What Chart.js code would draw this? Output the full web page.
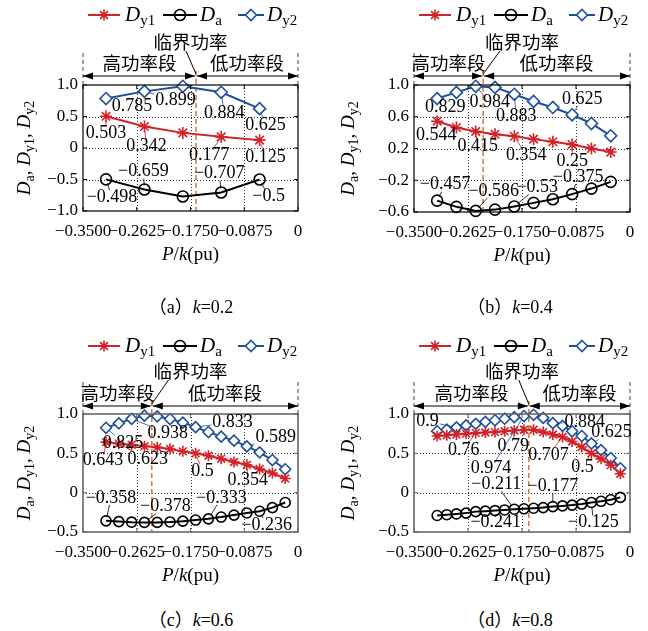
<!DOCTYPE html>
<html>
<head>
<meta charset="utf-8">
<script src="https://cdn.jsdelivr.net/npm/chart.js@4.4.1/dist/chart.umd.min.js"></script>
<style>
  body { margin: 0; background: #fff; width: 648px; height: 631px; position: relative; overflow: hidden; }
  canvas { position: absolute; }
  .cap { position: absolute; transform: translate(-50%, -50%); white-space: nowrap;
         font: 18px 'Liberation Serif', 'Noto Sans CJK SC', serif; color: #000; }
</style>
</head>
<body>
<canvas id="ca" width="324" height="290" style="left:0;top:0"></canvas>
<canvas id="cb" width="324" height="290" style="left:324px;top:0"></canvas>
<canvas id="cc" width="324" height="290" style="left:0;top:310px"></canvas>
<canvas id="cd" width="324" height="290" style="left:324px;top:310px"></canvas>
<div class="cap" style="left:191px;top:305px">（a）<i>k</i>=0.2</div>
<div class="cap" style="left:510px;top:305px">（b）<i>k</i>=0.4</div>
<div class="cap" style="left:191px;top:618px">（c）<i>k</i>=0.6</div>
<div class="cap" style="left:510px;top:618px">（d）<i>k</i>=0.8</div>
<script>
// axis ticks
const xTickVals = [-0.35, -0.2625, -0.175, -0.0875, 0];
const xTickLabels = ['−0.3500', '−0.2625', '−0.1750', '−0.0875', '0'];
const yTicksA = [-1, -0.5, 0, 0.5, 1];
const yLabelsA = ['−1.0', '−0.5', '0', '0.5', '1.0'];
const yTicksB = [-0.6, -0.2, 0.2, 0.6, 1];
const yLabelsB = ['−0.6', '−0.2', '0.2', '0.6', '1.0'];
const yTicksC = [-0.5, 0, 0.5, 1];
const yLabelsC = ['−0.5', '0', '0.5', '1.0'];

// (a) k=0.2
const pA = [-0.3125, -0.25, -0.1875, -0.125, -0.0625];
const dy1A = [0.503, 0.342, 0.24, 0.177, 0.125];
const daA = [-0.498, -0.659, -0.77, -0.707, -0.5];
const dy2A = [0.785, 0.899, 0.98, 0.884, 0.625];
const critA = -0.166;

// (b) k=0.4
const pB = [-0.3125, -0.28125, -0.25, -0.21875, -0.1875, -0.15625, -0.125, -0.09375, -0.0625, -0.03125];
const dy1B = [0.544, 0.465, 0.415, 0.38, 0.354, 0.318, 0.285, 0.25, 0.2, 0.155];
const daB = [-0.457, -0.535, -0.586, -0.57, -0.53, -0.485, -0.44, -0.375, -0.305, -0.22];
const dy2B = [0.829, 0.907, 0.984, 0.97, 0.883, 0.793, 0.717, 0.625, 0.515, 0.36];
const critB = -0.238;

// (c) k=0.6
const pC = [-0.3125, -0.29167, -0.27083, -0.25, -0.22917, -0.20833, -0.1875, -0.16667,
            -0.14583, -0.125, -0.10417, -0.08333, -0.0625, -0.04167, -0.02083];
const dy1C = [0.643, 0.623, 0.61, 0.59, 0.576, 0.555, 0.525, 0.5, 0.47, 0.432, 0.39, 0.354, 0.3, 0.25, 0.18];
const daC = [-0.358, -0.368, -0.375, -0.378, -0.378, -0.372, -0.362, -0.348, -0.333, -0.31, -0.285, -0.258, -0.236, -0.19, -0.125];
const dy2C = [0.825, 0.881, 0.938, 0.979, 0.97, 0.936, 0.89, 0.833, 0.771, 0.712, 0.661, 0.589, 0.513, 0.415, 0.297];
const critC = -0.238;

// (d) k=0.8
const pD = [-0.3125, -0.296875, -0.28125, -0.265625, -0.25, -0.234375, -0.21875, -0.203125, -0.1875, -0.171875,
            -0.15625, -0.140625, -0.125, -0.109375, -0.09375, -0.078125, -0.0625, -0.046875, -0.03125, -0.015625];
const dy1D = [0.72, 0.73, 0.74, 0.75, 0.76, 0.765, 0.77, 0.78, 0.79, 0.8, 0.8, 0.77, 0.74, 0.707, 0.65, 0.58, 0.5, 0.43, 0.35, 0.24];
const daD = [-0.29, -0.28, -0.27, -0.26, -0.241, -0.235, -0.228, -0.22, -0.211, -0.205,
             -0.198, -0.19, -0.177, -0.168, -0.158, -0.145, -0.125, -0.11, -0.09, -0.06];
const dy2D = [0.78, 0.8, 0.83, 0.855, 0.875, 0.9, 0.92, 0.94, 0.96, 0.974, 0.99, 0.95, 0.884, 0.85, 0.78, 0.72, 0.625, 0.54, 0.44, 0.31];
const critD = -0.164;

const RED = '#d42027', BLACK = '#000', BLUE = '#1d4f9c', CRIT = '#d2783c';
const SERIF = '"Liberation Serif", serif';
const CJK = '"Noto Sans CJK SC", sans-serif';

// value labels: s = dataset (0 Dy1, 1 Da, 2 Dy2), i = point, dx/dy = text offset from point
const notesA = [
  {s: 2, i: 0, t: '0.785', dx: 26, dy: 8}, {s: 2, i: 1, t: '0.899', dx: 31, dy: 9},
  {s: 2, i: 3, t: '0.884', dx: 3, dy: 21}, {s: 2, i: 4, t: '0.625', dx: 6, dy: 17},
  {s: 0, i: 0, t: '0.503', dx: 0, dy: 17}, {s: 0, i: 1, t: '0.342', dx: 2, dy: 20},
  {s: 0, i: 3, t: '0.177', dx: -12, dy: 18}, {s: 0, i: 4, t: '0.125', dx: 6, dy: 17},
  {s: 1, i: 0, t: '−0.498', dx: 6, dy: 18}, {s: 1, i: 1, t: '−0.659', dx: -1, dy: -18},
  {s: 1, i: 3, t: '−0.707', dx: -2, dy: -19}, {s: 1, i: 4, t: '−0.5', dx: 9, dy: 17}
];
const notesB = [
  {s: 2, i: 0, t: '0.829', dx: 8, dy: 9}, {s: 2, i: 2, t: '0.984', dx: 14, dy: 16},
  {s: 2, i: 4, t: '0.883', dx: 2, dy: 22}, {s: 2, i: 7, t: '0.625', dx: 10, dy: -16},
  {s: 0, i: 0, t: '0.544', dx: -1, dy: 14}, {s: 0, i: 2, t: '0.415', dx: 2, dy: 15},
  {s: 0, i: 4, t: '0.354', dx: 12, dy: 19}, {s: 0, i: 7, t: '0.25', dx: 0, dy: 17},
  {s: 1, i: 0, t: '−0.457', dx: 8, dy: -16}, {s: 1, i: 2, t: '−0.586', dx: 18, dy: -20},
  {s: 1, i: 4, t: '−0.53', dx: 23, dy: -19}, {s: 1, i: 7, t: '−0.375', dx: 6, dy: -17}
];
const notesC = [
  {s: 2, i: 0, t: '0.825', dx: 17, dy: 15}, {s: 2, i: 2, t: '0.938', dx: 36, dy: 14},
  {s: 2, i: 7, t: '0.833', dx: 37, dy: -5}, {s: 2, i: 11, t: '0.589', dx: 29, dy: -9},
  {s: 0, i: 0, t: '0.643', dx: -3, dy: 18}, {s: 0, i: 1, t: '0.623', dx: 29, dy: 16},
  {s: 0, i: 7, t: '0.5', dx: 7, dy: 18}, {s: 0, i: 11, t: '0.354', dx: 1, dy: 15},
  {s: 1, i: 0, t: '−0.358', dx: 5, dy: -23}, {s: 1, i: 3, t: '−0.378', dx: 21, dy: -16},
  {s: 1, i: 8, t: '−0.333', dx: 13, dy: -21}, {s: 1, i: 12, t: '−0.236', dx: 7, dy: 14}
];
const notesD = [
  {s: 2, i: 2, t: '0.9', dx: -29, dy: -6}, {s: 0, i: 4, t: '0.76', dx: -12, dy: 17},
  {s: 0, i: 8, t: '0.79', dx: -1, dy: 16}, {s: 2, i: 9, t: '0.974', dx: -33, dy: 52},
  {s: 0, i: 13, t: '0.707', dx: -14, dy: 18}, {s: 0, i: 16, t: '0.5', dx: -9, dy: 14},
  {s: 2, i: 12, t: '0.884', dx: 32, dy: -1}, {s: 2, i: 16, t: '0.625', dx: 20, dy: -11},
  {s: 1, i: 8, t: '−0.211', dx: -18, dy: -25}, {s: 1, i: 12, t: '−0.177', dx: 0, dy: -20},
  {s: 1, i: 4, t: '−0.241', dx: 20, dy: 11}, {s: 1, i: 16, t: '−0.125', dx: 2, dy: 20}
];

function seg(ctx, x1, y1, x2, y2) {
  ctx.beginPath(); ctx.moveTo(x1, y1); ctx.lineTo(x2, y2); ctx.stroke();
}

function marker(ctx, style, x, y, r) {
  ctx.beginPath();
  if (style === 'star') {
    for (let k = 0; k < 4; k++) {
      const an = k * Math.PI / 4;
      ctx.moveTo(x + Math.cos(an) * r, y + Math.sin(an) * r);
      ctx.lineTo(x - Math.cos(an) * r, y - Math.sin(an) * r);
    }
    ctx.stroke();
  } else if (style === 'circle') {
    ctx.arc(x, y, r, 0, Math.PI * 2); ctx.stroke();
  } else {
    ctx.moveTo(x, y - r); ctx.lineTo(x + r, y); ctx.lineTo(x, y + r); ctx.lineTo(x - r, y); ctx.closePath();
    ctx.fillStyle = '#fff'; ctx.fill(); ctx.stroke();
  }
}

// italic D with an upright subscript, returns width
function dSub(ctx, x, y, sub, big, small) {
  ctx.font = 'italic ' + big + 'px ' + SERIF;
  ctx.fillText('D', x, y);
  const w = ctx.measureText('D').width;
  ctx.font = small + 'px ' + SERIF;
  ctx.fillText(sub, x + w, y + big * 0.3);
  return w + ctx.measureText(sub).width;
}

function arrowHead(ctx, x, y, dir) {
  ctx.beginPath();
  ctx.moveTo(x, y); ctx.lineTo(x - dir * 10, y - 3.5); ctx.lineTo(x - dir * 10, y + 3.5);
  ctx.closePath(); ctx.fill();
}

function overlay(c) {
  return {
    id: 'overlay',
    beforeDatasetsDraw(chart) {
      const {ctx, chartArea: a, scales: {x, y}} = chart;
      ctx.save();
      ctx.strokeStyle = '#333'; ctx.lineWidth = 1; ctx.setLineDash([1, 2]);
      xTickVals.slice(1, -1).forEach(v => {
        const px = Math.round(x.getPixelForValue(v)) + 0.5; seg(ctx, px, a.top, px, a.bottom);
      });
      c.yTicks.slice(1, -1).forEach(v => {
        const py = Math.round(y.getPixelForValue(v)) + 0.5; seg(ctx, a.left, py, a.right, py);
      });
      // critical power line
      const cx = x.getPixelForValue(c.crit);
      ctx.strokeStyle = CRIT; ctx.lineWidth = 1.5; ctx.setLineDash([5, 3]);
      seg(ctx, cx, a.top + c.arrowDy - 5, cx, a.bottom);
      ctx.restore();
    },
    afterDraw(chart) {
      const {ctx, chartArea: a, scales: {x, y}} = chart;
      ctx.save();
      // frame and inward ticks
      ctx.strokeStyle = c.frame; ctx.lineWidth = c.frameW;
      ctx.strokeRect(a.left, a.top, a.right - a.left, a.bottom - a.top);
      ctx.lineWidth = 1;
      c.yTicks.forEach(v => {
        const py = y.getPixelForValue(v);
        seg(ctx, a.left, py, a.left + 4, py); seg(ctx, a.right - 4, py, a.right, py);
      });
      xTickVals.forEach(v => {
        const px = x.getPixelForValue(v);
        seg(ctx, px, a.bottom, px, a.bottom - 4); seg(ctx, px, a.top, px, a.top + 4);
      });

      // legend
      const L = a.left, ly = a.top + c.legendDy;
      const items = [
        {col: RED, st: 'star', x0: 5, x1: 37, sub: 'y1', tx: 42},
        {col: BLACK, st: 'circle', x0: 80, x1: 114, sub: 'a', tx: 117},
        {col: BLUE, st: 'rectRot', x0: 155, x1: 181, sub: 'y2', tx: 184}
      ];
      ctx.textBaseline = 'middle'; ctx.textAlign = 'left';
      items.forEach(it => {
        ctx.strokeStyle = it.col; ctx.lineWidth = 2;
        seg(ctx, L + it.x0, ly, L + it.x1, ly);
        ctx.lineWidth = 1.6;
        marker(ctx, it.st, L + (it.x0 + it.x1) / 2, ly, 5.5);
        ctx.fillStyle = '#000';
        dSub(ctx, L + it.tx, ly, it.sub, 21, 15);
      });

      // power segment annotation
      const cx = x.getPixelForValue(c.crit);
      const ay = a.top + c.arrowDy;
      ctx.strokeStyle = '#444'; ctx.lineWidth = 1; ctx.setLineDash([4, 3]);
      seg(ctx, a.left, a.top - 32, a.left, a.top); seg(ctx, a.right, a.top - 32, a.right, a.top);
      ctx.setLineDash([]);
      ctx.strokeStyle = '#000'; ctx.fillStyle = '#000';
      seg(ctx, a.left, ay, cx - 1, ay); seg(ctx, cx + 1, ay, a.right, ay);
      arrowHead(ctx, a.left, ay, -1); arrowHead(ctx, cx - 1, ay, 1);
      arrowHead(ctx, cx + 1, ay, -1); arrowHead(ctx, a.right, ay, 1);
      ctx.font = '18.5px ' + CJK; ctx.textAlign = 'center';
      ctx.fillText('高功率段', (a.left + cx) / 2, a.top + c.segDy);
      ctx.fillText('低功率段', (cx + a.right) / 2, a.top + c.segDy);
      const mx = (a.left + a.right) / 2, my = a.top + c.critDy;
      ctx.fillText('临界功率', mx, my);
      const sx = Math.min(Math.max(cx - 10, mx - 22), mx + 22);
      seg(ctx, sx, my + 9, cx, ay - 2);

      // value labels with leader lines
      ctx.font = '18px ' + SERIF;
      const cols = [RED, BLACK, BLUE];
      c.notes.forEach(n => {
        const el = chart.getDatasetMeta(n.s).data[n.i];
        const tx = el.x + n.dx, ty = el.y + n.dy;
        const hw = ctx.measureText(n.t).width / 2 + 1, hh = 7;
        const ddx = el.x - tx, ddy = el.y - ty;
        const t = Math.min(ddx ? hw / Math.abs(ddx) : 9, ddy ? hh / Math.abs(ddy) : 9);
        if (t < 1) {
          const len = Math.hypot(ddx, ddy);
          const ex = el.x - ddx / len * 4, ey = el.y - ddy / len * 4;
          const bx = tx + ddx * t, by = ty + ddy * t;
          if (Math.hypot(ex - bx, ey - by) > 2 && (ex - bx) * ddx + (ey - by) * ddy > 0) {
            ctx.strokeStyle = cols[n.s]; ctx.lineWidth = 0.8;
            seg(ctx, bx, by, ex, ey);
          }
        }
        ctx.fillStyle = '#000';
        ctx.fillText(n.t, tx, ty);
      });

      // axis titles
      ctx.fillStyle = '#000';
      ctx.textAlign = 'left';
      const parts = [['P', 'italic'], ['/', ''], ['k', 'italic'], ['(pu)', '']];
      let tw = 0;
      parts.forEach(p => { ctx.font = (p[1] ? 'italic ' : '') + '19px ' + SERIF; tw += ctx.measureText(p[0]).width; });
      let px = (a.left + a.right) / 2 - tw / 2;
      const py = a.bottom + 44;
      parts.forEach(p => {
        ctx.font = (p[1] ? 'italic ' : '') + '19px ' + SERIF;
        ctx.fillText(p[0], px, py); px += ctx.measureText(p[0]).width;
      });

      ctx.translate(25, (a.top + a.bottom) / 2);
      ctx.rotate(-Math.PI / 2);
      ctx.font = '19px ' + SERIF;
      const comma = ctx.measureText(', ').width;
      const subs = ['a', 'y1', 'y2'];
      let total = 0;
      subs.forEach((s, k) => {
        ctx.font = 'italic 19px ' + SERIF; total += ctx.measureText('D').width;
        ctx.font = '14px ' + SERIF; total += ctx.measureText(s).width;
        if (k < 2) total += comma;
      });
      let qx = -total / 2;
      subs.forEach((s, k) => {
        qx += dSub(ctx, qx, 0, s, 19, 14);
        if (k < 2) { ctx.font = '19px ' + SERIF; ctx.fillText(', ', qx, 0); qx += comma; }
      });
      ctx.restore();
    }
  };
}

function makeChart(id, c) {
  const W = 324, H = 290;
  const pts = arr => c.p.map((xv, i) => ({x: xv, y: arr[i]}));
  const ctx = document.getElementById(id).getContext('2d');
  return new Chart(ctx, {
    type: 'line',
    data: {
      datasets: [
        {label: 'Dy1', data: pts(c.dy1), borderColor: RED, backgroundColor: RED, pointStyle: 'star',
         pointRadius: c.r + 0.5, pointBorderWidth: 1.6, borderWidth: 2, clip: false},
        {label: 'Da', data: pts(c.da), borderColor: BLACK, backgroundColor: 'rgba(0,0,0,0)', pointStyle: 'circle',
         pointRadius: c.r, pointBorderWidth: 1.6, borderWidth: 2, clip: false},
        {label: 'Dy2', data: pts(c.dy2), borderColor: BLUE, backgroundColor: '#fff', pointStyle: 'rectRot',
         pointRadius: c.r + 0.5, pointBorderWidth: 1.6, borderWidth: 2, clip: false}
      ]
    },
    options: {
      responsive: false,
      animation: false,
      devicePixelRatio: 1,
      layout: {padding: {left: 0, right: W - c.box.right, top: c.box.top, bottom: H - c.box.bottom - 40}},
      plugins: {legend: {display: false}, tooltip: {enabled: false}},
      scales: {
        x: {
          type: 'linear', min: -0.35, max: 0,
          grid: {display: false, drawTicks: false}, border: {display: false},
          afterBuildTicks: s => { s.ticks = xTickVals.map(v => ({value: v})); },
          afterFit: s => { s.height = 40; },
          ticks: {
            autoSkip: false, maxRotation: 0, padding: 10, color: '#000',
            font: {family: 'Liberation Serif', size: 17},
            callback: v => xTickLabels[xTickVals.indexOf(v)]
          }
        },
        y: {
          type: 'linear', min: c.yTicks[0], max: c.yTicks[c.yTicks.length - 1],
          grid: {display: false, drawTicks: false}, border: {display: false},
          afterBuildTicks: s => { s.ticks = c.yTicks.map(v => ({value: v})); },
          afterFit: s => { s.width = c.box.left; },
          ticks: {
            padding: 5, color: '#000',
            font: {family: 'Liberation Serif', size: 17},
            callback: v => c.yLabels[c.yTicks.indexOf(v)]
          }
        }
      }
    },
    plugins: [overlay(c)]
  });
}

const topRow = {legendDy: -70, critDy: -43, segDy: -22, arrowDy: -9, r: 5.5};
const botRow = {legendDy: -68, critDy: -43, segDy: -21, arrowDy: -8, r: 5};

makeChart('ca', Object.assign({p: pA, dy1: dy1A, da: daA, dy2: dy2A, crit: critA, yTicks: yTicksA, yLabels: yLabelsA,
  notes: notesA, box: {left: 83, right: 298, top: 85, bottom: 211}, frame: '#000', frameW: 1.2}, topRow));
makeChart('cb', Object.assign({p: pB, dy1: dy1B, da: daB, dy2: dy2B, crit: critB, yTicks: yTicksB, yLabels: yLabelsB,
  notes: notesB, box: {left: 90, right: 306, top: 85, bottom: 212}, frame: '#000', frameW: 1.2}, topRow));
makeChart('cc', Object.assign({p: pC, dy1: dy1C, da: daC, dy2: dy2C, crit: critC, yTicks: yTicksC, yLabels: yLabelsC,
  notes: notesC, box: {left: 83, right: 298, top: 104, bottom: 222}, frame: '#666', frameW: 1.6}, botRow));
makeChart('cd', Object.assign({p: pD, dy1: dy1D, da: daD, dy2: dy2D, crit: critD, yTicks: yTicksC, yLabels: yLabelsC,
  notes: notesD, box: {left: 90, right: 306, top: 104, bottom: 222}, frame: '#666', frameW: 1.6}, botRow));
</script>
</body>
</html>
